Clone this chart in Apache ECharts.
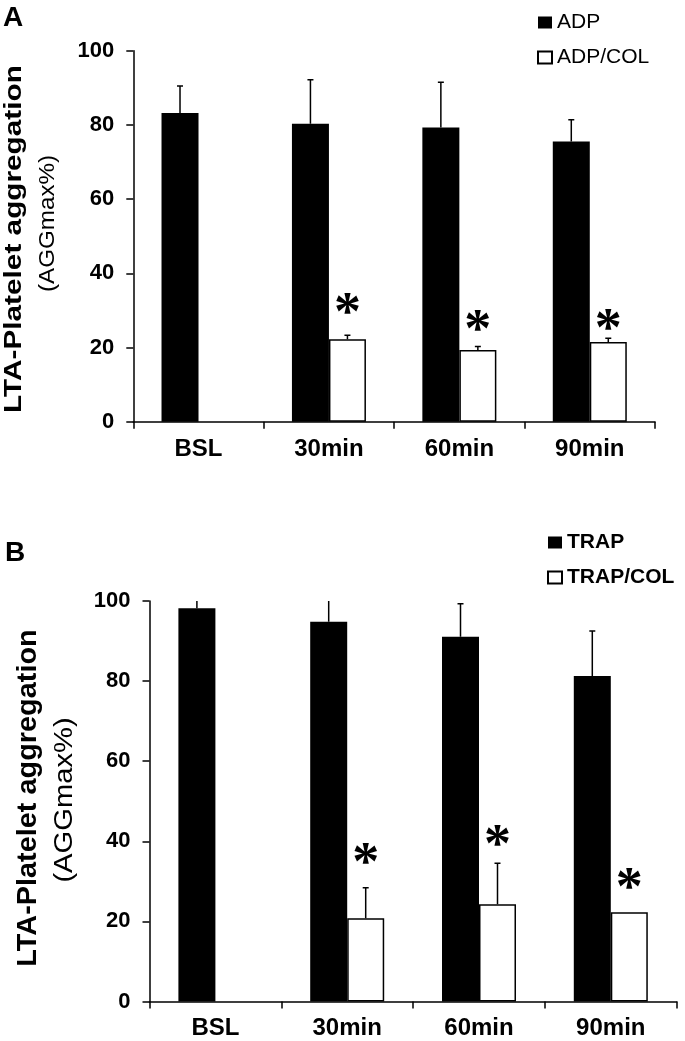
<!DOCTYPE html>
<html>
<head>
<meta charset="utf-8">
<script src="https://cdn.jsdelivr.net/npm/echarts@6/dist/echarts.min.js"></script>
<style>
html,body{margin:0;padding:0;background:#fff;}
#chart{width:685px;height:1041px;}
</style>
</head>
<body>
<div id="chart"></div>
<script>
// ---- data ----
var categories = ['BSL', '30min', '60min', '90min'];
var yTicks = [0, 20, 40, 60, 80, 100];

// Panel A
var adpMean    = [83.2, 80.3, 79.3, 75.5];
var adpSD      = [7.3, 11.9, 12.2, 5.9];
var adpColMean = [null, 22.2, 19.3, 21.5];
var adpColSD   = [null, 1.1, 1.0, 1.0];
var starA      = [null, 31.9, 27.4, 27.6];

// Panel B
var trapMean    = [98.2, 94.8, 91.1, 81.3];
var trapSD      = [2.5, 6.0, 8.2, 11.2];
var trapColMean = [null, 20.8, 24.3, 22.3];
var trapColSD   = [null, 7.6, 10.2, null];
var starB       = [null, 37.1, 41.6, 30.8];

// ---- style constants ----
var FONT = '"Liberation Sans", Arial, sans-serif';
var BAR_W = 37;
var STAR_SIZE = 54;

function errData(mean, sd) {
  var out = [];
  for (var i = 0; i < mean.length; i++) {
    if (mean[i] == null || sd[i] == null) continue;
    out.push([i, mean[i], mean[i] + sd[i]]);
  }
  return out;
}
function starData(arr) {
  var out = [];
  for (var i = 0; i < arr.length; i++) if (arr[i] != null) out.push([i, arr[i]]);
  return out;
}
function errRender(sign) {
  return function (params, api) {
    var p0 = api.coord([api.value(0), api.value(1)]);
    var p1 = api.coord([api.value(0), api.value(2)]);
    var x = p0[0] + sign * BAR_W / 2;
    return {
      type: 'group',
      children: [
        { type: 'line', shape: { x1: x, y1: p0[1], x2: x, y2: p1[1] }, style: { stroke: '#000', lineWidth: 1.5 } },
        { type: 'line', shape: { x1: x - 3, y1: p1[1], x2: x + 3, y2: p1[1] }, style: { stroke: '#000', lineWidth: 1.5 } }
      ]
    };
  };
}
function starRender(params, api) {
  var p = api.coord([api.value(0), api.value(1)]);
  return {
    type: 'text',
    x: p[0] + BAR_W / 2,
    y: p[1] + STAR_SIZE * 0.22,
    style: { text: '*', font: 'bold ' + STAR_SIZE + 'px "Liberation Serif", "Times New Roman", serif', align: 'center', verticalAlign: 'middle', fill: '#000' }
  };
}

function xAxisCfg(gi, margin) {
  return {
    type: 'category', gridIndex: gi, data: categories,
    axisLine: { show: true, lineStyle: { color: '#000', width: 1.5 } },
    axisTick: { show: true, alignWithLabel: false, length: 7, lineStyle: { color: '#000', width: 1.5 } },
    axisLabel: { color: '#000', fontFamily: FONT, fontWeight: 'bold', fontSize: 24, margin: margin, interval: 0 },
    splitLine: { show: false }
  };
}
function yAxisCfg(gi) {
  return {
    type: 'value', gridIndex: gi, min: yTicks[0], max: yTicks[yTicks.length - 1], interval: yTicks[1] - yTicks[0],
    axisLine: { show: true, lineStyle: { color: '#000', width: 1.5 } },
    axisTick: { show: true, inside: false, length: 7, lineStyle: { color: '#000', width: 1.5 } },
    axisLabel: { color: '#000', fontFamily: FONT, fontWeight: 'bold', fontSize: 22, margin: 19 },
    splitLine: { show: false }
  };
}
function barSeries(name, gi, data, fill) {
  return {
    name: name, type: 'bar', xAxisIndex: gi, yAxisIndex: gi, data: data,
    barWidth: BAR_W, barGap: '0%',
    itemStyle: { color: fill, borderColor: '#000', borderWidth: fill === '#fff' ? 1.5 : 0 },
    emphasis: { disabled: true }, silent: true
  };
}
function customSeries(gi, data, render) {
  return {
    type: 'custom', xAxisIndex: gi, yAxisIndex: gi, data: data, renderItem: render,
    clip: true, silent: true, z: 5
  };
}
function vText(text, x, y, size, weight, sx) {
  return {
    type: 'text', x: x, y: y, rotation: Math.PI / 2, scaleX: sx, scaleY: 1,
    style: { text: text, font: weight + ' ' + size + 'px ' + FONT, align: 'center', verticalAlign: 'middle', fill: '#000' }
  };
}

var chart = echarts.init(document.getElementById('chart'), null, { renderer: 'canvas' });
chart.setOption({
  backgroundColor: '#fff',
  animation: false,
  grid: [
    { left: 133.3, top: 50.7, width: 521.7, height: 371, containLabel: false },
    { left: 149.5, top: 601, width: 527.2, height: 400.5, containLabel: false }
  ],
  xAxis: [xAxisCfg(0, 16), xAxisCfg(1, 15)],
  yAxis: [yAxisCfg(0), yAxisCfg(1)],
  legend: [
    { left: 537, top: 12, orient: 'vertical', padding: 0, itemWidth: 14, itemHeight: 12, itemGap: 14, icon: 'rect',
      selectedMode: false, textStyle: { fontSize: 21, fontFamily: FONT, color: '#000' }, data: ['ADP', 'ADP/COL'] },
    { left: 547, top: 532, orient: 'vertical', padding: 0, itemWidth: 14, itemHeight: 12, itemGap: 14, icon: 'rect',
      selectedMode: false, textStyle: { fontSize: 21, fontWeight: 'bold', fontFamily: FONT, color: '#000' }, data: ['TRAP', 'TRAP/COL'] }
  ],
  graphic: [
    { type: 'text', x: 3, y: 18, style: { text: 'A', font: 'bold 28px ' + FONT, align: 'left', verticalAlign: 'middle', fill: '#000' } },
    { type: 'text', x: 5, y: 553, style: { text: 'B', font: 'bold 28px ' + FONT, align: 'left', verticalAlign: 'middle', fill: '#000' } },
    vText('LTA-Platelet aggregation', 14, 239, 24, 'bold', 1.24),
    vText('(AGGmax%)', 48, 223.5, 22, 'normal', 1.1),
    vText('LTA-Platelet aggregation', 28.5, 798, 27.5, 'bold', 1.05),
    vText('(AGGmax%)', 65, 800, 26.5, 'normal', 1.1)
  ],
  series: [
    barSeries('ADP', 0, adpMean, '#000'),
    barSeries('ADP/COL', 0, adpColMean, '#fff'),
    customSeries(0, errData(adpMean, adpSD), errRender(-1)),
    customSeries(0, errData(adpColMean, adpColSD), errRender(1)),
    customSeries(0, starData(starA), starRender),
    barSeries('TRAP', 1, trapMean, '#000'),
    barSeries('TRAP/COL', 1, trapColMean, '#fff'),
    customSeries(1, errData(trapMean, trapSD), errRender(-1)),
    customSeries(1, errData(trapColMean, trapColSD), errRender(1)),
    customSeries(1, starData(starB), starRender)
  ]
});
</script>
</body>
</html>
